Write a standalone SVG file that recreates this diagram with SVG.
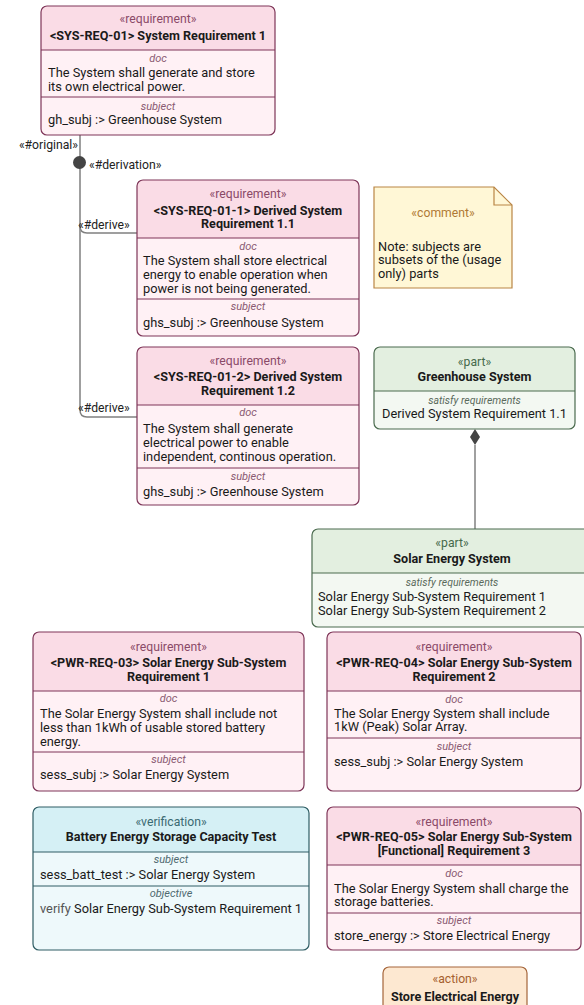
<svg xmlns="http://www.w3.org/2000/svg" width="584" height="1005" viewBox="0 0 584 1005">
<style>
text{font-family:Roboto,"Liberation Sans",sans-serif;font-size:12.8px;fill:#1a1a1a}
.st{font-size:12.2px;text-anchor:middle}
.ti{font-weight:bold;font-size:12.6px;text-anchor:middle}
.cl{font-size:11px;font-style:italic;text-anchor:middle}
.sr{font-size:10.5px}
.lbl{font-size:12.2px;fill:#222}
.req .body{fill:#fff1f5}.req .hd{fill:#fadce6}.req .ol{fill:none;stroke:#7e3558;stroke-width:1.2}.req .dv{stroke:#7e3558;stroke-width:1}
.req .st{fill:#8a4a68}.req .cl{fill:#8a5a72}
.prt .body{fill:#f3f8f2}.prt .hd{fill:#e3efe0}.prt .ol{fill:none;stroke:#4b6b4f;stroke-width:1.2}.prt .dv{stroke:#4b6b4f;stroke-width:1}
.prt .st{fill:#466a4c}.prt .cl{fill:#5a6a5c}
.ver .body{fill:#eef9fb}.ver .hd{fill:#d5f0f5}.ver .ol{fill:none;stroke:#2f5d64;stroke-width:1.2}.ver .dv{stroke:#2f5d64;stroke-width:1}
.ver .st{fill:#3b6a72}.ver .cl{fill:#4f6a70}
.conn{fill:none;stroke:#808080;stroke-width:1.5}
</style>
<g id="connectors">
<path class="conn" d="M80,135 L80,410 Q80,417 87,417 L137,417"/>
<path class="conn" d="M80,226 Q80,233 87,233 L137,233"/>
<circle cx="79.5" cy="162.5" r="6.5" fill="#444"/>
<text class="lbl" x="78" y="149" text-anchor="end">«#original»</text>
<text class="lbl" x="89" y="169">«#derivation»</text>
<text class="lbl" x="78" y="229">«#derive»</text>
<text class="lbl" x="78" y="412">«#derive»</text>
<path class="conn" d="M475,445 L475,529"/>
<polygon points="475,429 480,437 475,445 470,437" fill="#444"/>
</g>
<g id="sys-req-01" class="req">
<rect class="body" x="41" y="6" width="234" height="129" rx="6"/>
<path class="hd" d="M41,50 V12 a6,6 0 0 1 6,-6 H269 a6,6 0 0 1 6,6 V50 Z"/>
<line class="dv" x1="41" y1="50" x2="275" y2="50"/><line class="dv" x1="41" y1="97" x2="275" y2="97"/>
<rect class="ol" x="41" y="6" width="234" height="129" rx="6"/>
<text class="st" x="158" y="23">«requirement»</text>
<text class="ti" x="158" y="40">&lt;SYS-REQ-01&gt; System Requirement 1</text>
<text class="cl" x="158" y="61.5">doc</text>
<text x="48" y="77">The System shall generate and store</text>
<text x="48" y="91">its own electrical power.</text>
<text class="cl" x="158" y="109.5">subject</text>
<text x="48" y="124">gh_subj :&gt; Greenhouse System</text>
</g>
<g id="sys-req-01-1" class="req">
<rect class="body" x="137" y="180" width="222" height="156" rx="6"/>
<path class="hd" d="M137,238 V186 a6,6 0 0 1 6,-6 H353 a6,6 0 0 1 6,6 V238 Z"/>
<line class="dv" x1="137" y1="238" x2="359" y2="238"/><line class="dv" x1="137" y1="299" x2="359" y2="299"/>
<rect class="ol" x="137" y="180" width="222" height="156" rx="6"/>
<text class="st" x="248" y="198">«requirement»</text>
<text class="ti" x="248" y="215">&lt;SYS-REQ-01-1&gt; Derived System</text>
<text class="ti" x="248" y="228">Requirement 1.1</text>
<text class="cl" x="248" y="250">doc</text>
<text x="143" y="265">The System shall store electrical</text>
<text x="143" y="279">energy to enable operation when</text>
<text x="143" y="293">power is not being generated.</text>
<text class="cl" x="248" y="310">subject</text>
<text x="143" y="327">ghs_subj :&gt; Greenhouse System</text>
</g>
<g id="sys-req-01-2" class="req">
<rect class="body" x="137" y="347" width="222" height="158" rx="6"/>
<path class="hd" d="M137,405 V353 a6,6 0 0 1 6,-6 H353 a6,6 0 0 1 6,6 V405 Z"/>
<line class="dv" x1="137" y1="405" x2="359" y2="405"/><line class="dv" x1="137" y1="468" x2="359" y2="468"/>
<rect class="ol" x="137" y="347" width="222" height="158" rx="6"/>
<text class="st" x="248" y="365">«requirement»</text>
<text class="ti" x="248" y="381">&lt;SYS-REQ-01-2&gt; Derived System</text>
<text class="ti" x="248" y="395">Requirement 1.2</text>
<text class="cl" x="248" y="416">doc</text>
<text x="143" y="433">The System shall generate</text>
<text x="143" y="447">electrical power to enable</text>
<text x="143" y="461">independent, continous operation.</text>
<text class="cl" x="248" y="480">subject</text>
<text x="143" y="496">ghs_subj :&gt; Greenhouse System</text>
</g>
<g id="comment">
<path d="M374,187 H494 L512,205 V288 H374 Z" fill="#fff7d6" stroke="#b98545" stroke-width="1.2"/>
<path d="M494,187 V205 H512" fill="none" stroke="#b98545" stroke-width="1.2"/>
<text class="st" x="443" y="217" style="fill:#b07a35">«comment»</text>
<text x="378" y="251">Note: subjects are</text>
<text x="378" y="264">subsets of the (usage</text>
<text x="378" y="278">only) parts</text>
</g>
<g id="greenhouse-system" class="prt">
<rect class="body" x="374" y="347" width="201" height="82" rx="6"/>
<path class="hd" d="M374,391 V353 a6,6 0 0 1 6,-6 H569 a6,6 0 0 1 6,6 V391 Z"/>
<line class="dv" x1="374" y1="391" x2="575" y2="391"/>
<rect class="ol" x="374" y="347" width="201" height="82" rx="6"/>
<text class="st" x="474.5" y="366">«part»</text>
<text class="ti" x="474.5" y="381">Greenhouse System</text>
<text class="cl sr" x="474.5" y="403.5">satisfy requirements</text>
<text x="474.5" y="418" text-anchor="middle">Derived System Requirement 1.1</text>
</g>
<g id="solar-energy-system" class="prt">
<rect class="body" x="312" y="529" width="280" height="98" rx="6"/>
<path class="hd" d="M312,573 V535 a6,6 0 0 1 6,-6 H586 a6,6 0 0 1 6,6 V573 Z"/>
<line class="dv" x1="312" y1="573" x2="592" y2="573"/>
<rect class="ol" x="312" y="529" width="280" height="98" rx="6"/>
<text class="st" x="452" y="547">«part»</text>
<text class="ti" x="452" y="563">Solar Energy System</text>
<text class="cl sr" x="452" y="586">satisfy requirements</text>
<text x="318" y="601">Solar Energy Sub-System Requirement 1</text>
<text x="318" y="615">Solar Energy Sub-System Requirement 2</text>
</g>
<g id="pwr-req-03" class="req">
<rect class="body" x="33" y="632" width="271" height="159" rx="6"/>
<path class="hd" d="M33,691 V638 a6,6 0 0 1 6,-6 H298 a6,6 0 0 1 6,6 V691 Z"/>
<line class="dv" x1="33" y1="691" x2="304" y2="691"/><line class="dv" x1="33" y1="752" x2="304" y2="752"/>
<rect class="ol" x="33" y="632" width="271" height="159" rx="6"/>
<text class="st" x="168.5" y="651">«requirement»</text>
<text class="ti" x="168.5" y="667">&lt;PWR-REQ-03&gt; Solar Energy Sub-System</text>
<text class="ti" x="168.5" y="681">Requirement 1</text>
<text class="cl" x="168.5" y="702">doc</text>
<text x="40" y="718">The Solar Energy System shall include not</text>
<text x="40" y="732">less than 1kWh of usable stored battery</text>
<text x="40" y="746">energy.</text>
<text class="cl" x="168.5" y="763">subject</text>
<text x="40" y="779">sess_subj :&gt; Solar Energy System</text>
</g>
<g id="pwr-req-04" class="req">
<rect class="body" x="327" y="632" width="254" height="159" rx="6"/>
<path class="hd" d="M327,691 V638 a6,6 0 0 1 6,-6 H575 a6,6 0 0 1 6,6 V691 Z"/>
<line class="dv" x1="327" y1="691" x2="581" y2="691"/><line class="dv" x1="327" y1="738" x2="581" y2="738"/>
<rect class="ol" x="327" y="632" width="254" height="159" rx="6"/>
<text class="st" x="454" y="651">«requirement»</text>
<text class="ti" x="454" y="667">&lt;PWR-REQ-04&gt; Solar Energy Sub-System</text>
<text class="ti" x="454" y="681">Requirement 2</text>
<text class="cl" x="454" y="703">doc</text>
<text x="334" y="718">The Solar Energy System shall include</text>
<text x="334" y="731">1kW (Peak) Solar Array.</text>
<text class="cl" x="454" y="750">subject</text>
<text x="334" y="766">sess_subj :&gt; Solar Energy System</text>
</g>
<g id="battery-test" class="ver">
<rect class="body" x="33" y="807" width="276" height="143" rx="6"/>
<path class="hd" d="M33,852 V813 a6,6 0 0 1 6,-6 H303 a6,6 0 0 1 6,6 V852 Z"/>
<line class="dv" x1="33" y1="852" x2="309" y2="852"/><line class="dv" x1="33" y1="886" x2="309" y2="886"/>
<rect class="ol" x="33" y="807" width="276" height="143" rx="6"/>
<text class="st" x="171" y="826">«verification»</text>
<text class="ti" x="171" y="841">Battery Energy Storage Capacity Test</text>
<text class="cl" x="171" y="863">subject</text>
<text x="40" y="879">sess_batt_test :&gt; Solar Energy System</text>
<text class="cl" x="171" y="897">objective</text>
<text x="40" y="913"><tspan style="fill:#555">verify</tspan> Solar Energy Sub-System Requirement 1</text>
</g>
<g id="pwr-req-05" class="req">
<rect class="body" x="327" y="807" width="254" height="143" rx="6"/>
<path class="hd" d="M327,865 V813 a6,6 0 0 1 6,-6 H575 a6,6 0 0 1 6,6 V865 Z"/>
<line class="dv" x1="327" y1="865" x2="581" y2="865"/><line class="dv" x1="327" y1="913" x2="581" y2="913"/>
<rect class="ol" x="327" y="807" width="254" height="143" rx="6"/>
<text class="st" x="454" y="826">«requirement»</text>
<text class="ti" x="454" y="841">&lt;PWR-REQ-05&gt; Solar Energy Sub-System</text>
<text class="ti" x="454" y="855">[Functional] Requirement 3</text>
<text class="cl" x="454" y="877">doc</text>
<text x="334" y="893">The Solar Energy System shall charge the</text>
<text x="334" y="906">storage batteries.</text>
<text class="cl" x="454" y="924">subject</text>
<text x="334" y="940">store_energy :&gt; Store Electrical Energy</text>
</g>
<g id="store-electrical-energy">
<rect x="383" y="967" width="144" height="60" rx="6" fill="#fde8d1" stroke="#a5653a" stroke-width="1.2"/>
<text class="st" x="455" y="983" style="fill:#a5602e">«action»</text>
<text class="ti" x="455" y="1001">Store Electrical Energy</text>
</g>
</svg>
